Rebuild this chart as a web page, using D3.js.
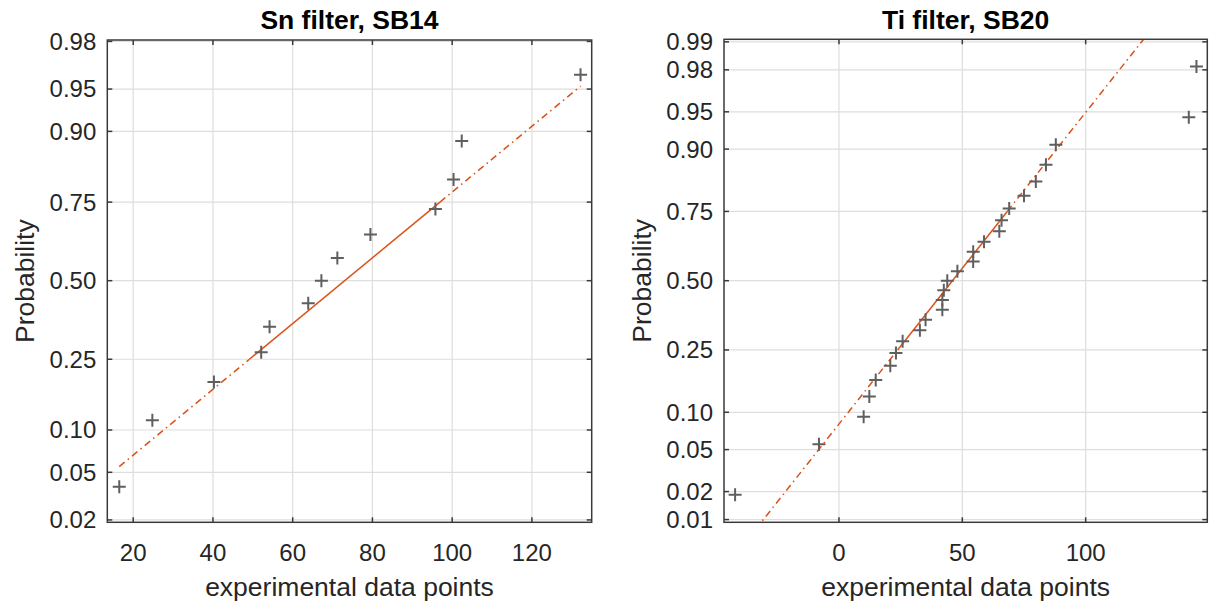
<!DOCTYPE html>
<html>
<head>
<meta charset="utf-8">
<script src="https://cdn.jsdelivr.net/npm/d3@7"></script>
<style>
  body { margin: 0; background: #fff; }
  svg { display: block; font-family: "Liberation Sans", Arial, sans-serif; }
</style>
</head>
<body>
<svg id="chart" width="1210" height="608"></svg>
<script>
// Sn filter, SB14 - sorted data and plotting positions
var snX = [16.5, 24.8, 40.25, 52.1, 54.2, 63.9, 67.2, 71.2, 79.5, 95.8, 100.35, 102.4, 132.2];
var snProb = [0.0385, 0.1154, 0.1923, 0.2692, 0.3462, 0.4231, 0.5, 0.5769, 0.6538, 0.7308, 0.8077, 0.8846, 0.9615];

// Ti filter, SB20
var tiX = [-42.1, -8.1, 10.0, 12.3, 14.9, 20.8, 23.1, 25.8, 32.8, 35.1, 41.9, 41.9, 42.5, 43.9, 48.0,
           54.4, 54.4, 58.8, 65.0, 65.9, 69.0, 75.0, 79.8, 83.9, 87.9, 141.8, 144.9];
var tiProb = [0.0185, 0.0556, 0.0926, 0.1296, 0.1667, 0.2037, 0.2407, 0.2778, 0.3148, 0.3519, 0.3889,
              0.4259, 0.4630, 0.5, 0.5370, 0.5741, 0.6111, 0.6481, 0.6852, 0.7222, 0.7593, 0.7963,
              0.8333, 0.8704, 0.9074, 0.9444, 0.9815];

// tick labels
var snXTicks = [20, 40, 60, 80, 100, 120];
var snYTicks = [0.02, 0.05, 0.10, 0.25, 0.50, 0.75, 0.90, 0.95, 0.98];
var tiXTicks = [0, 50, 100];
var tiYTicks = [0.01, 0.02, 0.05, 0.10, 0.25, 0.50, 0.75, 0.90, 0.95, 0.98, 0.99];

// inverse normal cdf (Acklam)
function norminv(p) {
    var a = [-3.969683028665376e+01, 2.209460984245205e+02, -2.759285104469687e+02, 1.383577518672690e+02, -3.066479806614716e+01, 2.506628277459239e+00];
    var b = [-5.447609879822406e+01, 1.615858368580409e+02, -1.556989798598866e+02, 6.680131188771972e+01, -1.328068155288572e+01];
    var c = [-7.784894002430293e-03, -3.223964580411365e-01, -2.400758277161838e+00, -2.549732539343734e+00, 4.374664141464968e+00, 2.938163982698783e+00];
    var d = [7.784695709041462e-03, 3.224671290700398e-01, 2.445134137142996e+00, 3.754408661907416e+00];
    var pl = 0.02425, q, r;
    if (p < pl) {
        q = Math.sqrt(-2 * Math.log(p));
        return (((((c[0]*q+c[1])*q+c[2])*q+c[3])*q+c[4])*q+c[5]) / ((((d[0]*q+d[1])*q+d[2])*q+d[3])*q+1);
    } else if (p <= 1 - pl) {
        q = p - 0.5; r = q * q;
        return (((((a[0]*r+a[1])*r+a[2])*r+a[3])*r+a[4])*r+a[5])*q / (((((b[0]*r+b[1])*r+b[2])*r+b[3])*r+b[4])*r+1);
    }
    q = Math.sqrt(-2 * Math.log(1 - p));
    return -(((((c[0]*q+c[1])*q+c[2])*q+c[3])*q+c[4])*q+c[5]) / ((((d[0]*q+d[1])*q+d[2])*q+d[3])*q+1);
}

// percentile like matlab prctile on sorted data
function prct(xs, pc) {
    var n = xs.length, pos = pc / 100 * n + 0.5;
    if (pos <= 1) return xs[0];
    if (pos >= n) return xs[n - 1];
    var i = Math.floor(pos), f = pos - i;
    return xs[i - 1] + f * (xs[i] - xs[i - 1]);
}

var svg = d3.select("#chart");
var gridColor = "#dedede", axisColor = "#3a3a3a", textColor = "#262626";
var fitColor = "#D95319", markColor = "#5f5f5f";

function drawPanel(cfg, id) {
    var x = d3.scaleLinear().domain(cfg.xDomain).range([cfg.left, cfg.right]);
    var y = d3.scaleLinear().domain(cfg.zDomain).range([cfg.bottom, cfg.top]);
    var yp = function(p) { return y(norminv(p)); };

    var g = svg.append("g");

    g.append("clipPath").attr("id", "clip" + id)
        .append("rect")
        .attr("x", cfg.left).attr("y", cfg.top)
        .attr("width", cfg.right - cfg.left).attr("height", cfg.bottom - cfg.top);

    // grid
    g.selectAll(".vg").data(cfg.xTicks).enter().append("line")
        .attr("x1", function(d) { return x(d); }).attr("x2", function(d) { return x(d); })
        .attr("y1", cfg.top).attr("y2", cfg.bottom)
        .attr("stroke", gridColor).attr("stroke-width", 1.2);
    g.selectAll(".hg").data(cfg.yTicks).enter().append("line")
        .attr("y1", function(d) { return yp(d); }).attr("y2", function(d) { return yp(d); })
        .attr("x1", cfg.left).attr("x2", cfg.right)
        .attr("stroke", gridColor).attr("stroke-width", 1.2);

    // reference line through quartiles
    var q1 = prct(cfg.xs, 25), q3 = prct(cfg.xs, 75);
    var z1 = norminv(0.25), z3 = norminv(0.75);
    var slope = (z3 - z1) / (q3 - q1);
    var zAt = function(v) { return z1 + (v - q1) * slope; };
    var xmin = d3.min(cfg.xs), xmax = d3.max(cfg.xs);
    var lines = g.append("g").attr("clip-path", "url(#clip" + id + ")");
    [[xmin, q1, "7,4,1.5,4"], [q1, q3, null], [q3, xmax, "7,4,1.5,4"]].forEach(function(s) {
        lines.append("line")
            .attr("x1", x(s[0])).attr("y1", y(zAt(s[0])))
            .attr("x2", x(s[1])).attr("y2", y(zAt(s[1])))
            .attr("stroke", fitColor).attr("stroke-width", 1.5)
            .attr("stroke-dasharray", s[2]);
    });

    // markers
    var m = 6.5;
    var pts = g.selectAll(".pt").data(cfg.xs.map(function(v, i) { return [v, cfg.ps[i]]; }))
        .enter().append("path")
        .attr("d", function(d) {
            var cx = x(d[0]), cy = yp(d[1]);
            return "M" + (cx - m) + "," + cy + "H" + (cx + m) + "M" + cx + "," + (cy - m) + "V" + (cy + m);
        })
        .attr("stroke", markColor).attr("stroke-width", 2).attr("fill", "none");

    // box
    g.append("rect")
        .attr("x", cfg.left).attr("y", cfg.top)
        .attr("width", cfg.right - cfg.left).attr("height", cfg.bottom - cfg.top)
        .attr("fill", "none").attr("stroke", axisColor).attr("stroke-width", 1.5);

    // inner ticks
    var tl = 5;
    cfg.xTicks.forEach(function(t) {
        g.append("line").attr("x1", x(t)).attr("x2", x(t)).attr("y1", cfg.bottom).attr("y2", cfg.bottom - tl)
            .attr("stroke", axisColor).attr("stroke-width", 1.5);
        g.append("line").attr("x1", x(t)).attr("x2", x(t)).attr("y1", cfg.top).attr("y2", cfg.top + tl)
            .attr("stroke", axisColor).attr("stroke-width", 1.5);
    });
    cfg.yTicks.forEach(function(t) {
        g.append("line").attr("y1", yp(t)).attr("y2", yp(t)).attr("x1", cfg.left).attr("x2", cfg.left + tl)
            .attr("stroke", axisColor).attr("stroke-width", 1.5);
        g.append("line").attr("y1", yp(t)).attr("y2", yp(t)).attr("x1", cfg.right).attr("x2", cfg.right - tl)
            .attr("stroke", axisColor).attr("stroke-width", 1.5);
    });

    // tick labels
    g.selectAll(".xl").data(cfg.xTicks).enter().append("text")
        .attr("x", function(d) { return x(d); }).attr("y", cfg.bottom + 39)
        .attr("text-anchor", "middle").attr("font-size", 24).attr("fill", textColor)
        .text(function(d) { return d; });
    g.selectAll(".yl").data(cfg.yTicks).enter().append("text")
        .attr("x", cfg.left - 11).attr("y", function(d) { return yp(d); })
        .attr("dy", "0.35em")
        .attr("text-anchor", "end").attr("font-size", 24).attr("fill", textColor)
        .text(function(d) { return d3.format(".2f")(d); });

    // title and labels
    var cx = (cfg.left + cfg.right) / 2;
    g.append("text").attr("x", cx).attr("y", 28.5)
        .attr("text-anchor", "middle").attr("font-size", 26.5).attr("font-weight", "bold")
        .attr("fill", "#000").text(cfg.title);
    g.append("text").attr("x", cx).attr("y", 596)
        .attr("text-anchor", "middle").attr("font-size", 26.5).attr("fill", textColor)
        .text("experimental data points");
    g.append("text")
        .attr("transform", "translate(" + (cfg.left - 73) + "," + ((cfg.top + cfg.bottom) / 2) + ")rotate(-90)")
        .attr("text-anchor", "middle").attr("font-size", 26.5).attr("fill", textColor)
        .text("Probability");
}

drawPanel({
    title: "Sn filter, SB14", xs: snX, ps: snProb, xTicks: snXTicks, yTicks: snYTicks,
    xDomain: [13.5, 135], zDomain: [-2.074, 2.066],
    left: 107.3, right: 591.7, top: 40, bottom: 522.3
}, 1);

drawPanel({
    title: "Ti filter, SB20", xs: tiX, ps: tiProb, xTicks: tiXTicks, yTicks: tiYTicks,
    xDomain: [-46.6, 149.3], zDomain: [-2.353, 2.351],
    left: 724, right: 1207.3, top: 39.3, bottom: 522.3
}, 2);
</script>
</body>
</html>
